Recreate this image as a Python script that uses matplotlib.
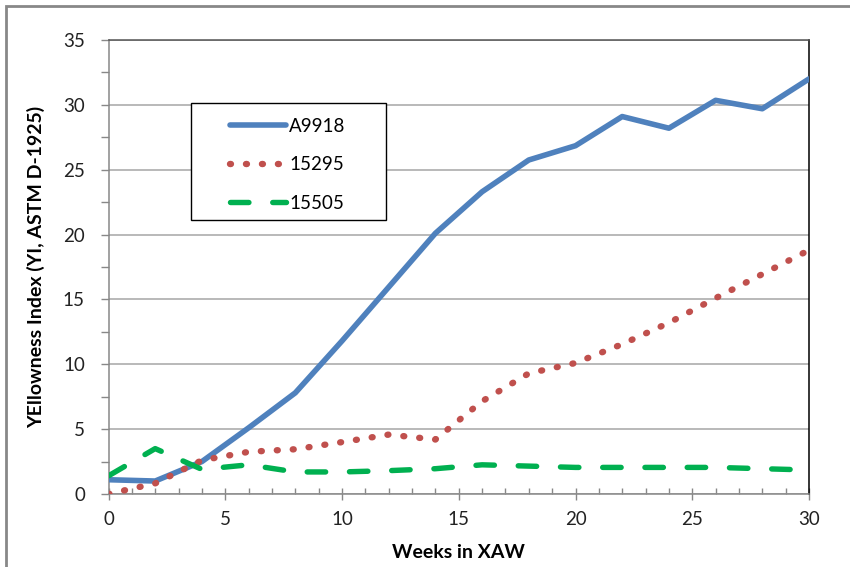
import matplotlib
matplotlib.use('Agg')
import matplotlib.pyplot as plt
from matplotlib.patches import Rectangle
from matplotlib.ticker import MultipleLocator

weeks = [0, 2, 4, 6, 8, 10, 12, 14, 16, 18, 20, 22, 24, 26, 28, 30]
a9918 = [1.1, 1.0, 2.5, 5.1, 7.8, 11.8, 15.95, 20.1, 23.3, 25.75, 26.85, 29.1, 28.2, 30.35, 29.7, 32.0]
s15295 = [0.0, 0.82, 2.6, 3.25, 3.45, 4.0, 4.58, 4.2, 7.15, 9.3, 10.1, 11.55, 13.2, 15.1, 16.95, 18.8]
s15505 = [1.4, 3.5, 1.9, 2.25, 1.7, 1.7, 1.8, 1.95, 2.25, 2.15, 2.05, 2.05, 2.05, 2.05, 1.95, 1.85]

y_label = 'YEllowness Index (YI, ASTM D-1925)'
x_label = 'Weeks in XAW'

plt.rcParams['font.family'] = ['Lato', 'DejaVu Sans']

fig = plt.figure(figsize=(8.5, 5.67), dpi=100)
ax = fig.add_axes([108.5 / 850, 1 - 494 / 567, 700.5 / 850, 454 / 567])

ax.plot(weeks, a9918, color='#4F81BD', lw=4.0, solid_capstyle='round',
        solid_joinstyle='round', label='A9918', zorder=3)
ax.plot(weeks, s15295, color='#C0504D', lw=4.6, linestyle=(0, (0.15, 2.35)),
        dash_capstyle='round', label='15295', zorder=3)
ax.plot(weeks, s15505, color='#00B050', lw=3.9, linestyle=(0, (3.4, 4.4)),
        dash_capstyle='round', label='15505', zorder=3)

ax.set_xlim(0, 30)
ax.set_ylim(0, 35)
ax.xaxis.set_major_locator(MultipleLocator(5))
ax.xaxis.set_minor_locator(MultipleLocator(1))
ax.yaxis.set_major_locator(MultipleLocator(5))
ax.yaxis.set_minor_locator(MultipleLocator(2.5))

ax.grid(axis='y', which='major', color='#A6A6A6', lw=1.1, zorder=1)
ax.tick_params(axis='x', which='major', direction='inout', length=9, width=1,
               color='#888888', pad=8, labelsize=13.5, labelcolor='#222222')
ax.tick_params(axis='x', which='minor', direction='in', length=4, width=1,
               color='#888888')
ax.tick_params(axis='y', which='major', direction='out', length=6, width=1,
               color='#888888', pad=11, labelsize=13.5, labelcolor='#222222')
ax.tick_params(axis='y', which='minor', direction='out', length=6, width=1,
               color='#888888')

ax.spines['left'].set_color('#888888')
ax.spines['bottom'].set_color('#888888')
ax.spines['top'].set_color('#555555')
ax.spines['right'].set_color('#000000')
for s in ax.spines.values():
    s.set_linewidth(1.1)

ax.set_xlabel(x_label, fontsize=14, fontweight='bold', labelpad=11)
ax.set_ylabel(y_label, fontsize=14, fontweight='bold', labelpad=13)

# legend without its own frame, box drawn separately (Excel style padding)
leg = ax.legend(loc='center left', bbox_to_anchor=(230 / 850, 1 - 165 / 567),
                bbox_transform=fig.transFigure, fontsize=13.5, frameon=False,
                handlelength=3.0, handletextpad=0.15, labelspacing=1.15,
                borderpad=0, borderaxespad=0)
leg.set_zorder(6)
ax.add_patch(Rectangle((191 / 850, 1 - 220 / 567), 195 / 850, 117 / 567,
                       transform=fig.transFigure, fill=True, clip_on=False,
                       facecolor='white', edgecolor='#000000', lw=1.0,
                       zorder=5))

# outer chart border
fig.patches.append(Rectangle((6 / 850, -0.1), 1.2, (567 - 6) / 567 + 0.1,
                             transform=fig.transFigure, fill=False,
                             edgecolor='#888888', lw=2))

fig.savefig('out.png', dpi=100)
